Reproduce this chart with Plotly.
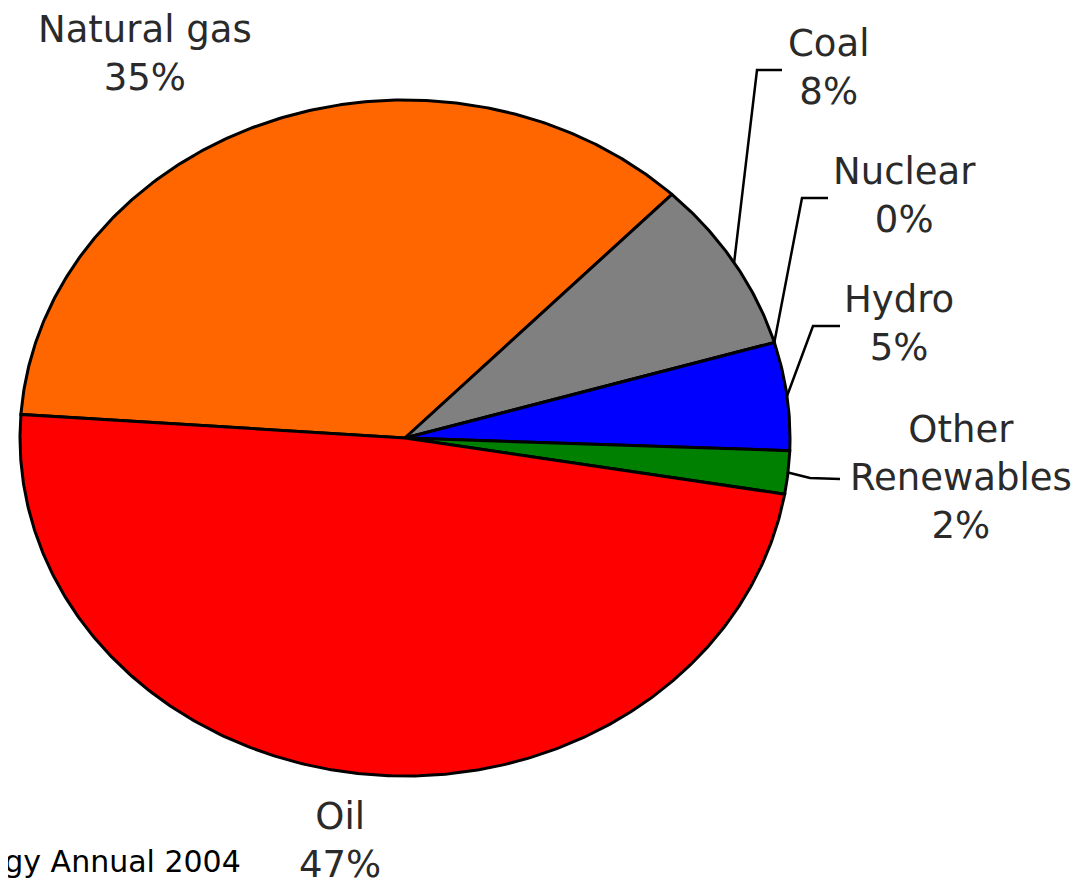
import numpy as np
import plotly.graph_objects as go

# data
labels = ["Natural gas", "Coal", "Nuclear", "Hydro", "Other<br>Renewables", "Oil"]
shares = [35, 8, 0, 5, 2, 47]  # percent of total
colors = ["#FF6600", "#808080", "#FFFF99", "#0000FF", "#008000", "#FF0000"]
source_note = "Source: Energy Information Administration, International Energy Annual 2004"

# layout (pixel space of the page, y grows downward)
W, H = 1081, 880
OFF = 8  # the html body margin
CX, CY, RX, RY = 405, 438, 385, 338
START = 176  # angle of the Oil / Natural gas boundary, slices run clockwise

label_xy = [(145, 53), (828, 67), (904, 195), (899, 323), (961, 477), (340, 840)]
leader_pts = [None, [(757, 70), (782, 70)], [(802, 198), (828, 198)],
              [(813, 326), (840, 326)], [(810, 478), (840, 479)], None]

fig = go.Figure()
total = sum(shares)
a = START
for name, v, col, lxy, lead in zip(labels, shares, colors, label_xy, leader_pts):
    span = 360.0 * v / total
    if span > 0:
        t = np.radians(np.linspace(a, a - span, max(int(span * 2), 2)))
        xs = np.concatenate([[CX], CX + RX * np.cos(t), [CX]])
        ys = np.concatenate([[CY], CY - RY * np.sin(t), [CY]])
        fig.add_trace(go.Scatter(
            x=xs, y=ys, mode="lines", fill="toself", fillcolor=col,
            line=dict(color="black", width=3), name=name.replace("<br>", " "),
            hoverinfo="name"
        ))
    mid = np.radians(a - span / 2)
    if lead:
        ex, ey = CX + RX * np.cos(mid), CY - RY * np.sin(mid)
        fig.add_trace(go.Scatter(
            x=[ex] + [p[0] for p in lead], y=[ey] + [p[1] for p in lead],
            mode="lines", line=dict(color="black", width=2.5), hoverinfo="skip"
        ))
    fig.add_annotation(
        x=lxy[0], y=lxy[1], text=f"{name}<br>{v}%", showarrow=False,
        xanchor="center", yanchor="middle", align="center",
        font=dict(family="DejaVu Sans", size=37, color="#2a2a2a")
    )
    a -= span

fig.add_annotation(
    x=243, y=881, text=source_note, showarrow=False,
    xanchor="right", yanchor="bottom",
    font=dict(family="DejaVu Sans", size=30, color="black")
)

fig.update_layout(
    width=W, height=H, margin=dict(l=0, r=0, t=0, b=0),
    paper_bgcolor="white", plot_bgcolor="white", showlegend=False,
    xaxis=dict(range=[OFF, W + OFF], visible=False, fixedrange=True),
    yaxis=dict(range=[H + OFF, OFF], visible=False, fixedrange=True),
)

fig.write_html("out.html")
